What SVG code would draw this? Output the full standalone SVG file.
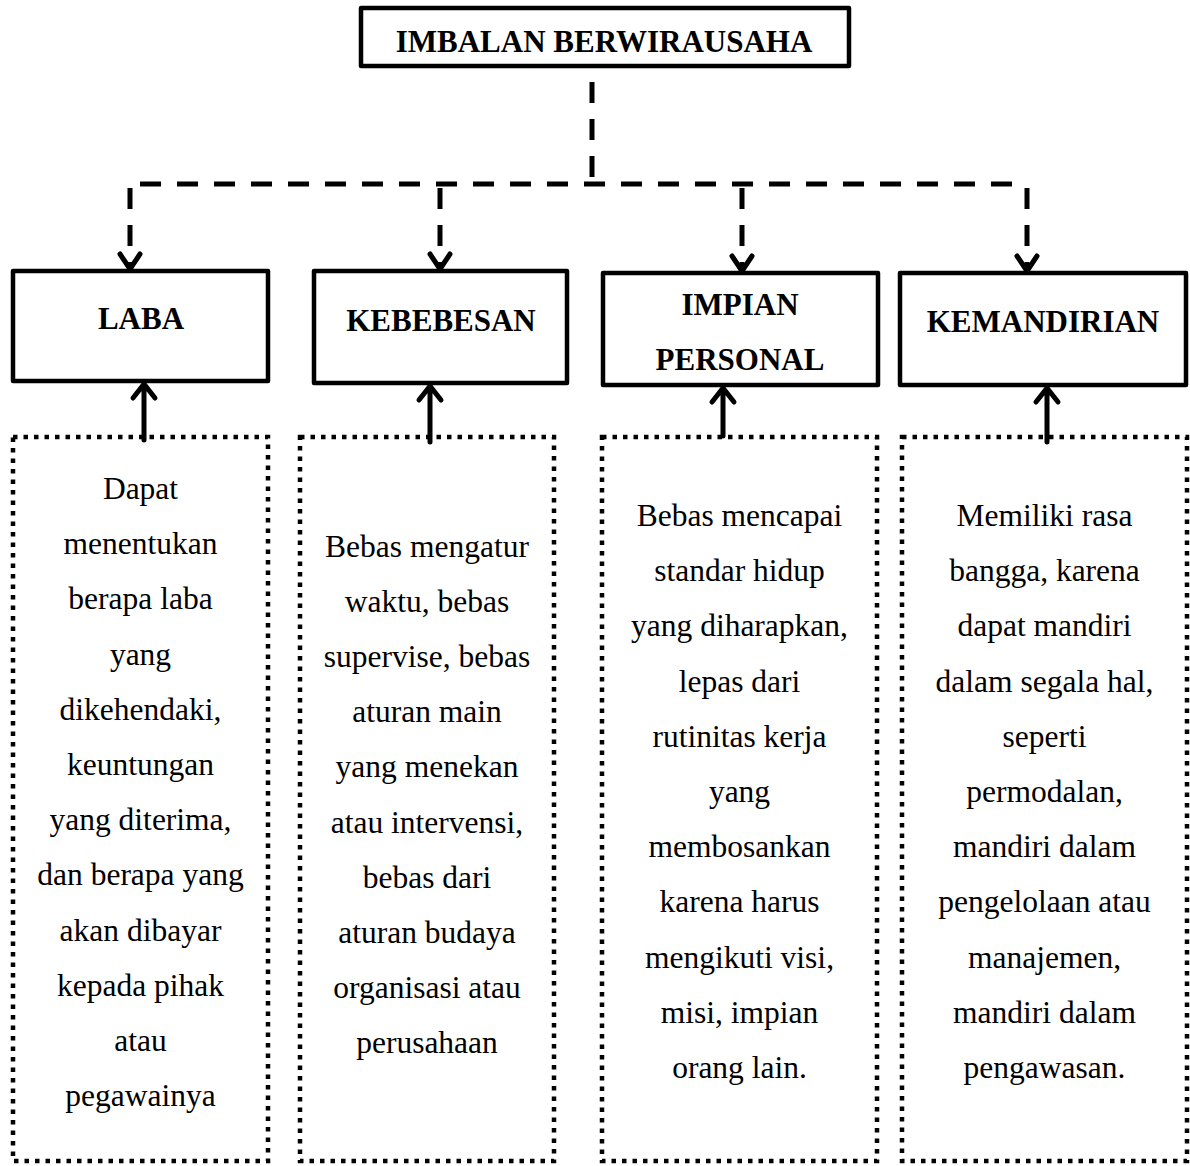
<svg xmlns="http://www.w3.org/2000/svg" width="1190" height="1166" viewBox="0 0 1190 1166">
<style>
.box{fill:#fff;stroke:#000;stroke-width:4.5;stroke-linejoin:round}
.dot{fill:none;stroke:#000;stroke-width:4.5;stroke-dasharray:4.5 6}
.dash{fill:none;stroke:#000;stroke-width:5;stroke-dasharray:21 16}
.ln{fill:none;stroke:#000;stroke-width:5;stroke-linecap:round;stroke-linejoin:round}
.h{font-family:"Liberation Serif","Times New Roman",serif;font-weight:bold;font-size:31px;text-anchor:middle;fill:#000}
.t{font-family:"Liberation Serif","Times New Roman",serif;font-size:31.5px;text-anchor:middle;fill:#000}
</style>
<g id="connectors">
<path class="dash" d="M592 82 V184"/>
<path class="dash" d="M140 184 H1027"/>
<path class="dash" d="M130 188 V266"/>
<path class="dash" d="M440 188 V266"/>
<path class="dash" d="M742 188 V268"/>
<path class="dash" d="M1027 188 V268"/>
<polyline class="ln" points="120,254 130,269 140,254"/>
<polyline class="ln" points="430,254 440,269 450,254"/>
<polyline class="ln" points="732,256 742,271 752,256"/>
<polyline class="ln" points="1017,256 1027,271 1037,256"/>
<path class="ln" d="M144 440 V384 M133 398 L144 384 L155 398"/>
<path class="ln" d="M430 442 V386 M419 400 L430 386 L441 400"/>
<path class="ln" d="M723 436 V388 M712 402 L723 388 L734 402"/>
<path class="ln" d="M1047 442 V388 M1036 402 L1047 388 L1058 402"/>
</g>
<g id="top">
<rect class="box" x="361" y="8" width="488" height="58"/>
<text class="h" x="604" y="52">IMBALAN BERWIRAUSAHA</text>
</g>
<g id="laba">
<rect class="box" x="13" y="271" width="255" height="110"/>
<text class="h" x="141" y="329">LABA</text>
</g>
<g id="kebebesan">
<rect class="box" x="314" y="271" width="253" height="112"/>
<text class="h" x="441" y="331">KEBEBESAN</text>
</g>
<g id="impian">
<rect class="box" x="603" y="273" width="275" height="112"/>
<text class="h" x="740" y="315">IMPIAN</text>
<text class="h" x="740" y="370">PERSONAL</text>
</g>
<g id="kemandirian">
<rect class="box" x="900" y="273" width="286" height="112"/>
<text class="h" x="1043" y="332">KEMANDIRIAN</text>
</g>
<g id="laba-desc">
<rect class="dot" x="13" y="437" width="255" height="724"/>
<text class="t" x="140.5" y="499">Dapat</text>
<text class="t" x="140.5" y="554">menentukan</text>
<text class="t" x="140.5" y="609">berapa laba</text>
<text class="t" x="140.5" y="665">yang</text>
<text class="t" x="140.5" y="720">dikehendaki,</text>
<text class="t" x="140.5" y="775">keuntungan</text>
<text class="t" x="140.5" y="830">yang diterima,</text>
<text class="t" x="140.5" y="885">dan berapa yang</text>
<text class="t" x="140.5" y="941">akan dibayar</text>
<text class="t" x="140.5" y="996">kepada pihak</text>
<text class="t" x="140.5" y="1051">atau</text>
<text class="t" x="140.5" y="1106">pegawainya</text>
</g>
<g id="kebebesan-desc">
<rect class="dot" x="300" y="437" width="254" height="724"/>
<text class="t" x="427" y="557">Bebas mengatur</text>
<text class="t" x="427" y="612">waktu, bebas</text>
<text class="t" x="427" y="667">supervise, bebas</text>
<text class="t" x="427" y="722">aturan main</text>
<text class="t" x="427" y="777">yang menekan</text>
<text class="t" x="427" y="833">atau intervensi,</text>
<text class="t" x="427" y="888">bebas dari</text>
<text class="t" x="427" y="943">aturan budaya</text>
<text class="t" x="427" y="998">organisasi atau</text>
<text class="t" x="427" y="1053">perusahaan</text>
</g>
<g id="impian-desc">
<rect class="dot" x="602" y="437" width="275" height="724"/>
<text class="t" x="739.5" y="526">Bebas mencapai</text>
<text class="t" x="739.5" y="581">standar hidup</text>
<text class="t" x="739.5" y="636">yang diharapkan,</text>
<text class="t" x="739.5" y="692">lepas dari</text>
<text class="t" x="739.5" y="747">rutinitas kerja</text>
<text class="t" x="739.5" y="802">yang</text>
<text class="t" x="739.5" y="857">membosankan</text>
<text class="t" x="739.5" y="912">karena harus</text>
<text class="t" x="739.5" y="968">mengikuti visi,</text>
<text class="t" x="739.5" y="1023">misi, impian</text>
<text class="t" x="739.5" y="1078">orang lain.</text>
</g>
<g id="kemandirian-desc">
<rect class="dot" x="902" y="437" width="285" height="724"/>
<text class="t" x="1044.5" y="526">Memiliki rasa</text>
<text class="t" x="1044.5" y="581">bangga, karena</text>
<text class="t" x="1044.5" y="636">dapat mandiri</text>
<text class="t" x="1044.5" y="692">dalam segala hal,</text>
<text class="t" x="1044.5" y="747">seperti</text>
<text class="t" x="1044.5" y="802">permodalan,</text>
<text class="t" x="1044.5" y="857">mandiri dalam</text>
<text class="t" x="1044.5" y="912">pengelolaan atau</text>
<text class="t" x="1044.5" y="968">manajemen,</text>
<text class="t" x="1044.5" y="1023">mandiri dalam</text>
<text class="t" x="1044.5" y="1078">pengawasan.</text>
</g>
</svg>
